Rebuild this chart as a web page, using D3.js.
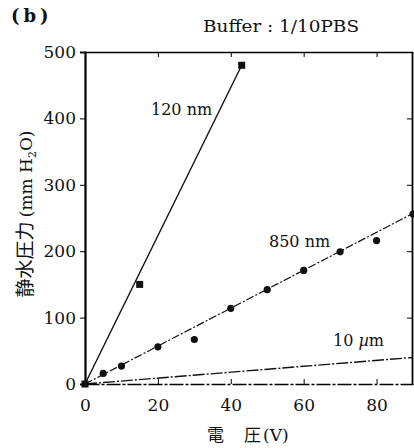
<!DOCTYPE html>
<html><head><meta charset="utf-8">
<script src="https://cdn.jsdelivr.net/npm/d3@7"></script>
<style>body{margin:0;background:#fff}</style>
</head><body>
<script>
// Data
const xTicks = [0, 20, 40, 60, 80];
const yTicks = [0, 100, 200, 300, 400, 500];
const v120 = [0, 15, 43];
const p120 = [0, 150, 480];
const v850 = [5, 10, 20, 30, 40, 50, 60, 70, 80, 90];
const p850 = [16, 27, 56, 67, 114, 142, 171, 199, 216, 256];
const fit850 = [[0, 0], [90, 257]];
const fit10um = [[0, 0], [90, 40]];
const fit120 = [[0, 0], [43, 480]];

const W = 414, H = 448;
const svg = d3.select("body").append("svg").attr("width", W).attr("height", H);
const x = d3.scaleLinear().domain([0, 90]).range([85, 413]);
const y = d3.scaleLinear().domain([0, 500]).range([384, 52]);
const serif = "'DejaVu Serif', 'Liberation Serif', serif";
const cjk = "'Noto Sans CJK JP', sans-serif";

// axes
const axLeft = svg.append("g").attr("transform", `translate(${x(0)},0)`)
  .call(d3.axisLeft(y).tickValues(yTicks).tickSize(5).tickPadding(4));
axLeft.select(".domain").attr("stroke-width", 2.2);
axLeft.selectAll("text").style("font-family", serif).style("font-size", "17px").attr("fill", "#111");

const axBottom = svg.append("g").attr("transform", `translate(0,${y(0)})`)
  .call(d3.axisBottom(x).tickValues(xTicks).tickSizeInner(-5).tickSizeOuter(0).tickPadding(15));
axBottom.select(".domain").attr("stroke-width", 1.5).attr("stroke-dasharray", "14,2,3,2");
axBottom.selectAll("text").style("font-family", serif).style("font-size", "17px").attr("fill", "#111");

const axTop = svg.append("g").attr("transform", `translate(0,${y(500)})`)
  .call(d3.axisTop(x).tickValues(xTicks.slice(1)).tickSizeInner(-5).tickSizeOuter(0).tickFormat(""));
axTop.select(".domain").attr("stroke-width", 1.3);

const axRight = svg.append("g").attr("transform", `translate(${x(90) - 1},0)`)
  .call(d3.axisRight(y).tickValues(yTicks.slice(1, 5)).tickSizeInner(-5).tickSizeOuter(0).tickFormat(""));
axRight.select(".domain").attr("stroke-width", 1.8);

// lines
const line = d3.line().x(d => x(d[0])).y(d => y(d[1]));
svg.append("path").datum(fit120).attr("d", line).attr("fill", "none").attr("stroke", "#111").attr("stroke-width", 1.4);
svg.append("path").datum(fit850).attr("d", line).attr("fill", "none").attr("stroke", "#111").attr("stroke-width", 1.2).attr("stroke-dasharray", "8,2,2,2");
svg.append("path").datum(fit10um).attr("d", line).attr("fill", "none").attr("stroke", "#111").attr("stroke-width", 1.4).attr("stroke-dasharray", "12,2,2,2");

// markers
svg.selectAll("rect.sq").data(v120.map((v, i) => [v, p120[i]])).enter().append("rect")
  .attr("x", d => x(d[0]) - 3.5).attr("y", d => y(d[1]) - 3.5).attr("width", 7).attr("height", 7).attr("fill", "#111");
svg.selectAll("circle.pt").data(v850.map((v, i) => [v, p850[i]])).enter().append("circle")
  .attr("cx", d => x(d[0])).attr("cy", d => y(d[1])).attr("r", 3.6).attr("fill", "#111");

// labels
function txt(t, px, py, size, opts = {}) {
  return svg.append("text").attr("x", px).attr("y", py).text(t)
    .style("font-family", opts.family || serif).style("font-size", size + "px")
    .style("font-weight", opts.weight || "normal").attr("fill", "#111")
    .attr("text-anchor", opts.anchor || "start");
}
txt("(b)", 11, 22, 18, {weight: "bold"}).style("letter-spacing", "4px");
txt("Buffer : 1/10PBS", 203, 32, 17).attr("textLength", 156).attr("lengthAdjust", "spacingAndGlyphs");
txt("120 nm", 151, 115, 16);
txt("850 nm", 269, 247, 16);
const t10 = svg.append("text").attr("x", 333).attr("y", 346).style("font-family", serif).style("font-size", "16px").attr("fill", "#111");
t10.append("tspan").text("10 ");
t10.append("tspan").text("µ").style("font-style", "italic");
t10.append("tspan").text("m");

// x label
const xl = svg.append("text").attr("y", 441).attr("fill", "#111").style("font-size", "17px");
xl.append("tspan").attr("x", 207).text("電").style("font-family", cjk);
xl.append("tspan").attr("x", 244).text("圧").style("font-family", cjk);
xl.append("tspan").attr("x", 263).text("(V)").style("font-family", serif);

// y label
const yl = svg.append("text").attr("transform", "translate(32,214) rotate(-90)").attr("text-anchor", "middle").attr("fill", "#111").style("font-size", "17px");
yl.append("tspan").text("静水圧力 ").style("font-family", cjk).style("font-size", "19px");
yl.append("tspan").text("(mm H").style("font-family", serif);
yl.append("tspan").text("2").style("font-family", serif).style("font-size", "11px").attr("dy", 4);
yl.append("tspan").text("O)").style("font-family", serif).attr("dy", -4);
</script>
</body></html>
